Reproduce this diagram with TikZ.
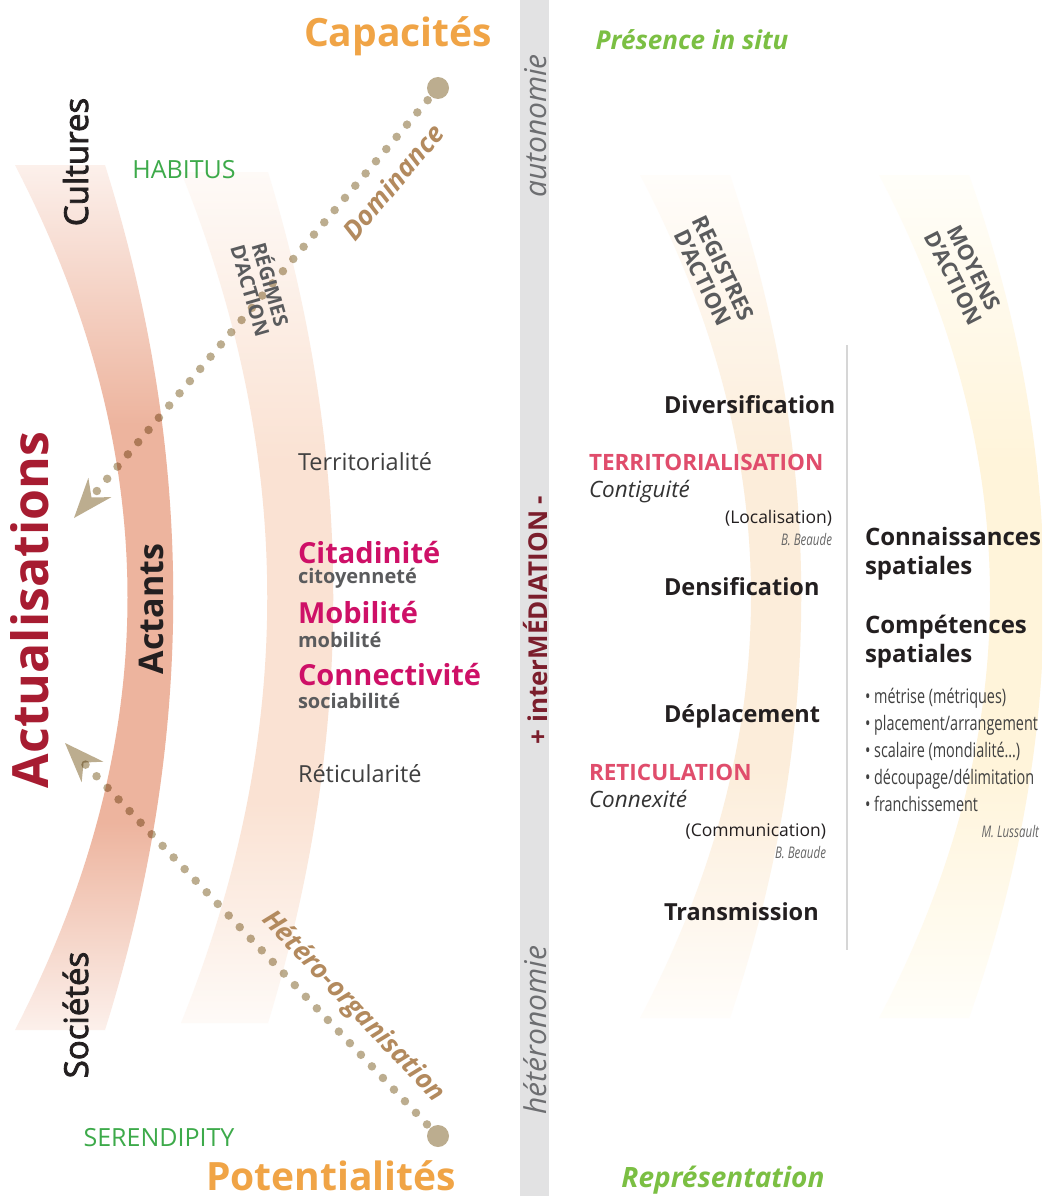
\documentclass[tikz,border=0pt]{standalone}
\usepackage{fontspec}
\setmainfont{Open Sans}
\newfontfamily\condfont[FakeStretch=0.72]{Open Sans}
\newfontfamily\semifont[FakeBold=2.4]{Open Sans}
\usepackage{tikz}
\usetikzlibrary{
  arrows.meta,
  positioning
}

\definecolor{capaorange}{HTML}{F0A446}
\definecolor{actred}{HTML}{A71C31}
\definecolor{citamag}{HTML}{CE1067}
\definecolor{subgrey}{HTML}{5A5B5D}
\definecolor{terrpink}{HTML}{E04D6C}
\definecolor{habgreen}{HTML}{3DAA4A}
\definecolor{preslime}{HTML}{7BBF43}
\definecolor{dottan}{HTML}{BCAD8F}
\definecolor{domtan}{HTML}{B38A5E}
\definecolor{inkblack}{HTML}{231F20}
\definecolor{bargrey}{HTML}{E2E2E3}
\definecolor{lightink}{HTML}{6D6E71}
\definecolor{sepgrey}{HTML}{D6D6D6}
\definecolor{interred}{HTML}{7B1E2C}
\definecolor{actfull}{HTML}{EDB49E}
\definecolor{actlight}{HTML}{FCF0EB}
\definecolor{regfull}{HTML}{FAE2D3}
\definecolor{reglight}{HTML}{FEFAF7}
\definecolor{regisfull}{HTML}{FCEDDA}
\definecolor{regislight}{HTML}{FFFDFA}
\definecolor{moyfull}{HTML}{FFF4DA}
\definecolor{moylight}{HTML}{FFFEF9}

\pgfdeclareverticalshading{actfade}{100bp}{color(0bp)=(actlight); color(25bp)=(actlight); color(37bp)=(actfull); color(60bp)=(actfull); color(75bp)=(actlight); color(100bp)=(actlight)}
\pgfdeclareverticalshading{regfade}{100bp}{color(0bp)=(reglight); color(25bp)=(reglight); color(38bp)=(regfull); color(58bp)=(regfull); color(75bp)=(reglight); color(100bp)=(reglight)}
\pgfdeclareverticalshading{regisfade}{100bp}{color(0bp)=(regislight); color(25bp)=(regislight); color(40bp)=(regisfull); color(58bp)=(regisfull); color(75bp)=(regislight); color(100bp)=(regislight)}
\pgfdeclareverticalshading{moyfade}{100bp}{color(0bp)=(moylight); color(25bp)=(moylight); color(40bp)=(moyfull); color(58bp)=(moyfull); color(75bp)=(moylight); color(100bp)=(moylight)}

\tikzset{
  every node/.style={inner sep=0pt,outer sep=0pt},
  pole/.style={font=\fontsize{39}{44}\selectfont\bfseries,text=capaorange},
  greenword/.style={font=\fontsize{25}{30}\selectfont,text=habgreen},
  sidetitle/.style={font=\fontsize{33}{38}\selectfont\semifont,text=inkblack,rotate=90},
  slanthead/.style={font=\fontsize{20}{21}\selectfont\bfseries,text=subgrey,align=center},
  dottext/.style={font=\fontsize{26.5}{30}\selectfont\bfseries\itshape,text=domtan},
  lightword/.style={font=\fontsize{23.5}{28}\selectfont,text=black!75},
  magword/.style={font=\fontsize{29}{34}\selectfont\bfseries,text=citamag},
  subword/.style={font=\fontsize{20}{24}\selectfont\bfseries,text=subgrey},
  barword/.style={font=\fontsize{30}{34}\selectfont\itshape,text=lightink,rotate=90},
  keyword/.style={font=\fontsize{23.5}{28}\selectfont\bfseries,text=inkblack},
  redword/.style={font=\fontsize{22.5}{27}\selectfont\bfseries,text=terrpink},
  italword/.style={font=\fontsize{22.5}{27}\selectfont\itshape,text=black!80},
  parenword/.style={font=\fontsize{17.5}{21}\selectfont,text=inkblack},
  authorword/.style={font=\fontsize{16}{19}\selectfont\condfont\itshape,text=black!60},
  spacehead/.style={font=\fontsize{24}{29}\selectfont\bfseries,text=inkblack,align=left},
  dotline/.style={draw=dottan,line width=8.5pt,line cap=round,dash pattern=on 0pt off 16pt},
  dottip/.style={-{Stealth[length=40pt,width=30pt,inset=13pt,line width=0pt]}},
  bigdot/.style={circle,fill=dottan,minimum size=22pt}
}

\begin{document}
\begin{tikzpicture}[x=1pt,y=-1pt]
  \useasboundingbox (0,0) rectangle (1042,1196);
  \fill[white] (0,0) rectangle (1042,1196);
  \clip (0,0) rectangle (1042,1196);

  \shade[shading=actfade] (15,165) .. controls (165,455) and (165,740) .. (15,1030) -- (105,1030) .. controls (196,740) and (196,455) .. (105,165) -- cycle;
  \shade[shading=regfade] (181,172) .. controls (296,457) and (296,738) .. (181,1023) -- (268,1023) .. controls (355,738) and (355,457) .. (268,172) -- cycle;
  \shade[shading=regisfade] (640,175) .. controls (788,457) and (788,736) .. (640,1018) -- (730,1018) .. controls (825,736) and (825,457) .. (730,175) -- cycle;
  \shade[shading=moyfade] (879,175) .. controls (1027,457) and (1027,736) .. (879,1018) -- (969,1018) .. controls (1069,736) and (1069,457) .. (969,175) -- cycle;

  \fill[bargrey] (520,0) rectangle (549,1196);
  \coordinate (septop) at (847,345);
  \coordinate (sepbot) at (847,950);
  \draw[sepgrey,line width=2pt] (septop) -- (sepbot);

  \coordinate (domorigin) at (438,88);
  \coordinate (domtip) at (74,518);
  \coordinate (hetorigin) at (438,1136);
  \coordinate (hettip) at (65,743);
  \begin{scope}[blend mode=multiply]
    \draw[dotline,dottip] (domorigin) -- (domtip);
    \draw[dotline,dottip] (hetorigin) -- (hettip);
  \end{scope}
  \node[bigdot] (domdot) at (domorigin) {};
  \node[bigdot] (hetdot) at (hetorigin) {};

  \node[pole,anchor=base] (capa) at (398,47) {Capacités};
  \node[pole,anchor=base] (potent) at (331,1190) {Potentialités};
  \node[greenword,anchor=base] (habitus) at (184,178) {HABITUS};
  \node[greenword,anchor=base] (serendip) at (159,1146) {SERENDIPITY};
  \node[sidetitle,anchor=base] (cultures) at (88,162) {Cultures};
  \node[sidetitle,anchor=base] (societes) at (88,1015) {Sociétés};
  \node[font=\fontsize{50}{56}\selectfont\bfseries,text=actred,rotate=90,anchor=base] (actualis) at (48,610) {Actualisations};
  \node[font=\fontsize{34}{40}\selectfont\bfseries,text=inkblack,rotate=90,anchor=base] (actants) at (163,609) {Actants};
  \node[slanthead,rotate=-74] (regimes) at (262,287) {RÉGIMES\\D’ACTION};
  \node[dottext,rotate=50] (dominance) at (393,182) {Dominance};
  \node[dottext,rotate=-46.5] (hetero) at (353,1007) {Hétéro-organisation};

  \node[lightword,anchor=base west] (territ) at (298,470) {Territorialité};
  \node[magword,anchor=base west] (citad) at (298,563) {Citadinité};
  \node[subword,anchor=base west] (citoy) at (298,583) {citoyenneté};
  \node[magword,anchor=base west] (mobil) at (298,623) {Mobilité};
  \node[subword,anchor=base west] (mobilsub) at (298,647) {mobilité};
  \node[magword,anchor=base west] (connect) at (298,685) {Connectivité};
  \node[subword,anchor=base west] (sociab) at (298,708) {sociabilité};
  \node[lightword,anchor=base west] (reticul) at (298,782) {Réticularité};

  \node[barword,anchor=base] (autonomie) at (546,126) {autonomie};
  \node[barword,anchor=base] (heteronomie) at (546,1030) {hétéronomie};
  \node[font=\fontsize{26}{30}\selectfont\bfseries,text=interred,rotate=90,anchor=base] (intermed) at (547,620) {+ interMÉDIATION -};

  \node[font=\fontsize{26}{30}\selectfont\bfseries\itshape,text=preslime,anchor=base] (presence) at (692,50) {Présence in situ};
  \node[font=\fontsize{28}{32}\selectfont\bfseries\itshape,text=preslime,anchor=base] (represent) at (723,1187) {Représentation};
  \node[slanthead,font=\fontsize{22}{23}\selectfont\bfseries,rotate=-64.5] (registres) at (713,273) {REGISTRES\\D’ACTION};
  \node[slanthead,font=\fontsize{21.5}{23}\selectfont\bfseries,rotate=-63] (moyens) at (964,273) {MOYENS\\D’ACTION};

  \node[keyword,anchor=base west] (divers) at (664,413) {Diversification};
  \node[redword,anchor=base west] (territn) at (589,470) {TERRITORIALISATION};
  \node[italword,anchor=base west] (contig) at (589,497) {Contiguité};
  \node[parenword,anchor=base east] (localis) at (832,523) {(Localisation)};
  \node[authorword,anchor=base east] (beaudeone) at (832,545) {B. Beaude};
  \node[keyword,anchor=base west] (densif) at (664,595) {Densification};
  \node[keyword,anchor=base west] (deplac) at (664,722) {Déplacement};
  \node[redword,anchor=base west] (reticn) at (589,780) {RETICULATION};
  \node[italword,anchor=base west] (connex) at (589,807) {Connexité};
  \node[parenword,anchor=base east] (communic) at (826,836) {(Communication)};
  \node[authorword,anchor=base east] (beaudetwo) at (826,858) {B. Beaude};
  \node[keyword,anchor=base west] (transm) at (664,920) {Transmission};

  \node[spacehead,anchor=base west] (connaiss) at (865,574) {Connaissances\\spatiales};
  \node[spacehead,anchor=base west] (compet) at (865,662) {Compétences\\spatiales};
  \node[font=\fontsize{20}{27}\selectfont\condfont,text=black!75,align=left,anchor=base west] (skills) at (865,811) {\textbullet\ métrise (métriques)\\\textbullet\ placement/arrangement\\\textbullet\ scalaire (mondialité\dots)\\\textbullet\ découpage/délimitation\\\textbullet\ franchissement};
  \node[authorword,anchor=base east] (lussault) at (1039,837) {M. Lussault};
\end{tikzpicture}
\end{document}
